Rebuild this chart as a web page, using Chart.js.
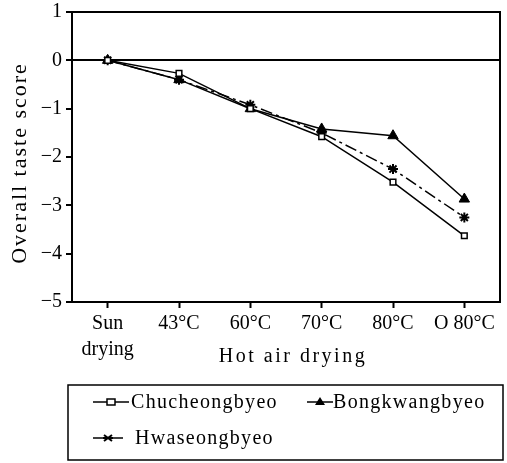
<!DOCTYPE html>
<html>
<head>
<meta charset="utf-8">
<script src="https://cdn.jsdelivr.net/npm/chart.js@4.4.0/dist/chart.umd.min.js"></script>
<style>
  html, body { margin: 0; padding: 0; background: #fff; }
  #wrap { width: 507px; height: 463px; position: relative; }
</style>
</head>
<body>
<div id="wrap"><canvas id="tasteChart"></canvas></div>
<script>
// categories along the x axis
const categories = [['Sun', 'drying'], '43°C', '60°C', '70°C', '80°C', 'O 80°C'];

// overall taste score per variety
const chucheongbyeo = [0, -0.27, -1.0, -1.58, -2.52, -3.63];
const bongkwangbyeo = [0, -0.4, -1.0, -1.42, -1.56, -2.87];
const hwaseongbyeo = [0, -0.4, -0.92, -1.5, -2.25, -3.25];

const seriesNames = ['Chucheongbyeo', 'Bongkwangbyeo', 'Hwaseongbyeo'];
const xTitle = 'Hot air drying';
const yTitle = 'Overall taste score';

const yMin = -5;
const yMax = 1;

const FONT = "'Liberation Serif', 'Times New Roman', serif";
Chart.defaults.font.family = FONT;
Chart.defaults.font.size = 20;
Chart.defaults.color = '#000';

function drawMarker(ctx, style, x, y) {
    ctx.save();
    ctx.strokeStyle = '#000';
    ctx.fillStyle = '#000';
    ctx.lineWidth = 1.5;
    ctx.setLineDash([]);
    if (style === 'rect') {
        ctx.fillStyle = '#fff';
        ctx.fillRect(x - 4, y - 3, 8, 6);
        ctx.strokeRect(x - 4, y - 3, 8, 6);
    } else if (style === 'triangle') {
        ctx.beginPath();
        ctx.moveTo(x, y - 5);
        ctx.lineTo(x + 5, y + 3);
        ctx.lineTo(x - 5, y + 3);
        ctx.closePath();
        ctx.fill();
    } else {
        ctx.lineWidth = 2;
        ctx.beginPath();
        ctx.moveTo(x - 4, y - 3); ctx.lineTo(x + 4, y + 3);
        ctx.moveTo(x + 4, y - 3); ctx.lineTo(x - 4, y + 3);
        ctx.moveTo(x - 5, y); ctx.lineTo(x + 5, y);
        ctx.stroke();
    }
    ctx.restore();
}

// box around plot, axis titles and the boxed legend
const framePlugin = {
    id: 'frame',
    afterDraw(chart) {
        const ctx = chart.ctx;
        const a = chart.chartArea;
        ctx.save();
        ctx.strokeStyle = '#000';
        ctx.fillStyle = '#000';
        ctx.lineWidth = 2;
        ctx.beginPath();
        ctx.moveTo(a.left, a.top);
        ctx.lineTo(a.right, a.top);
        ctx.lineTo(a.right, a.bottom);
        ctx.stroke();

        // axis titles (wide set, like the original)
        ctx.textAlign = 'center';
        ctx.textBaseline = 'middle';
        ctx.font = '20px ' + FONT;
        ctx.letterSpacing = '2.5px';
        ctx.fillText(xTitle, 293, 357);
        ctx.save();
        ctx.translate(20, (a.top + a.bottom) / 2 + 6);
        ctx.rotate(-Math.PI / 2);
        ctx.font = '22px ' + FONT;
        ctx.letterSpacing = '2px';
        ctx.fillText(yTitle, 0, 0);
        ctx.restore();

        // legend
        ctx.textAlign = 'left';
        ctx.lineWidth = 1.5;
        ctx.strokeRect(68, 385, 435, 75);
        ctx.font = '20px ' + FONT;
        ctx.letterSpacing = '1.3px';
        const items = [
            { x: 93, w: 36, y: 402, style: 'rect', text: seriesNames[0], tx: 131 },
            { x: 307, w: 26, y: 402, style: 'triangle', text: seriesNames[1], tx: 333 },
            { x: 93, w: 30, y: 438, style: 'star', text: seriesNames[2], tx: 135 }
        ];
        items.forEach(function (it) {
            ctx.lineWidth = 1.5;
            ctx.beginPath();
            ctx.moveTo(it.x, it.y);
            ctx.lineTo(it.x + it.w, it.y);
            ctx.stroke();
            drawMarker(ctx, it.style, it.x + it.w / 2, it.y);
            ctx.fillText(it.text, it.tx, it.y + 1);
        });
        ctx.letterSpacing = '0px';
        ctx.restore();
    }
};

const ctxTaste = document.getElementById('tasteChart');

const data = {
    labels: categories,
    datasets: [
        {
            label: seriesNames[0],
            data: chucheongbyeo,
            borderColor: '#000',
            backgroundColor: '#fff',
            borderWidth: 1.5,
            pointStyle: 'rect',
            pointRadius: 4,
            pointBorderWidth: 1.5,
            tension: 0
        },
        {
            label: seriesNames[1],
            data: bongkwangbyeo,
            borderColor: '#000',
            backgroundColor: '#000',
            borderWidth: 1.5,
            pointStyle: 'triangle',
            pointRadius: 6,
            pointBorderWidth: 1,
            tension: 0
        },
        {
            label: seriesNames[2],
            data: hwaseongbyeo,
            borderColor: '#000',
            backgroundColor: '#000',
            borderWidth: 1.5,
            borderDash: [12, 4, 3, 4],
            pointStyle: 'star',
            pointRadius: 5,
            pointBorderWidth: 2,
            tension: 0
        }
    ]
};

const config = {
    type: 'line',
    data: data,
    options: {
        responsive: true,
        maintainAspectRatio: false,
        animation: false,
        layout: {
            padding: { top: 12, right: -1, bottom: 93, left: 0 }
        },
        plugins: {
            legend: { display: false },
            tooltip: { enabled: false }
        },
        scales: {
            x: {
                offset: true,
                grid: {
                    offset: false,
                    drawOnChartArea: false,
                    tickLength: 6,
                    tickColor: '#000',
                    tickWidth: 2
                },
                border: { color: '#000', width: 2 },
                ticks: {
                    maxRotation: 0,
                    autoSkip: false,
                    padding: 3,
                    font: { size: 20, lineHeight: 1.3 }
                },
                afterFit(scale) {
                    scale.height = 68;
                    scale.paddingLeft = 0;
                    scale.paddingRight = 0;
                }
            },
            y: {
                min: yMin,
                max: yMax,
                ticks: {
                    stepSize: 1,
                    padding: 4,
                    callback: function (v) { return v < 0 ? '\u2212' + Math.abs(v) : v; }
                },
                grid: {
                    color: function (c) { return c.tick && c.tick.value === 0 ? '#000' : 'rgba(0,0,0,0)'; },
                    lineWidth: 2,
                    tickLength: 6,
                    tickColor: '#000',
                    tickWidth: 2
                },
                border: { color: '#000', width: 2 },
                afterFit(scale) {
                    scale.width = 72;
                    scale.paddingTop = 0;
                    scale.paddingBottom = 0;
                }
            }
        }
    },
    plugins: [framePlugin]
};

const chartTaste = new Chart(ctxTaste, config);
</script>
</body>
</html>
